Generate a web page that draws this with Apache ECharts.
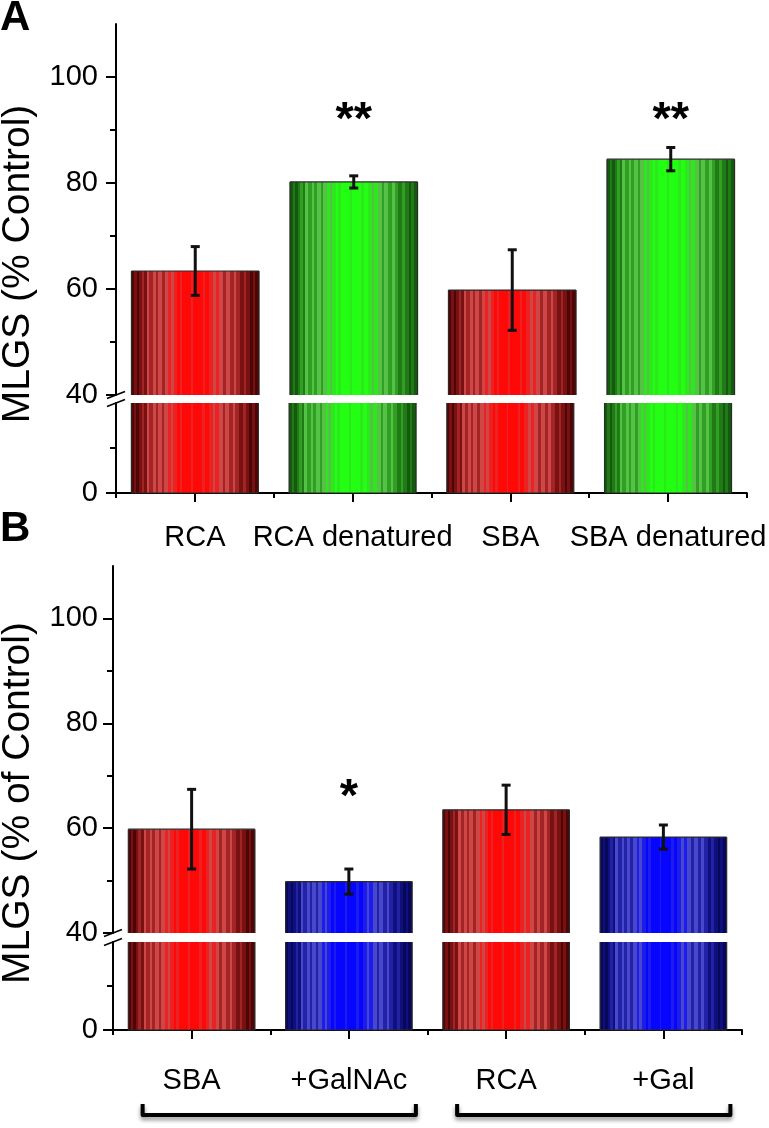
<!DOCTYPE html>
<html><head><meta charset="utf-8">
<script src="https://cdn.jsdelivr.net/npm/echarts@6/dist/echarts.min.js"></script>
<style>html,body{margin:0;padding:0;background:#fff}#c{width:769px;height:1128px}</style>
</head><body><div id="c"></div>
<script>
// ---------------- data ----------------
const catsA = ['RCA', 'RCA denatured', 'SBA', 'SBA denatured'];
const meansA = [63.4, 80.2, 59.8, 84.5];
const errsA = [4.6, 1.15, 7.6, 2.2];
const sigA = ['', '**', '', '**'];

const catsB = ['SBA', '+GalNAc', 'RCA', '+Gal'];
const meansB = [59.8, 49.8, 63.5, 58.3];
const errsB = [7.6, 2.4, 4.7, 2.3];
const sigB = ['', '*', '', ''];

const yMajorUpper = [40, 60, 80, 100];
const yMinorUpper = [50, 70, 90];
const yMajorLower = [0];
const yMinorLower = [20];
const groupsB = [[0, 1], [2, 3]];   // bracket groups (category indices)

// ---------------- style / layout ----------------
const titleA = 'MLGS (% Control)';
const titleB = 'MLGS (% of Control)';
const palA = ['red', 'green', 'red', 'green'];
const palB = ['red', 'blue', 'red', 'blue'];
const FONT = '"Liberation Sans", Arial, Helvetica, sans-serif';
const BAR_FRAC = 0.805;
const SIG_ANCHOR_A = 91.7, SIG_ANCHOR_B = 65.7;
const UP_MIN = 40, UP_MAX = 110, LO_MIN = 0, LO_MAX = 40;
const TICK_FS = 29, CAT_FS = 29, TITLE_FS = 39;

const palettes = {
  red:   ['#4e0505', '#781111', '#a32424', '#cf4646', '#ec2222', '#ff0808'],
  green: ['#145a0e', '#217a17', '#2fa022', '#55c247', '#2ee81e', '#22ff12'],
  blue:  ['#08085a', '#10107c', '#2222a6', '#4848cc', '#1c1cec', '#0606ff']
};
const stripeSeq = [[0,0],[0.02,1],[0.04,0],[0.06,1],[0.08,2],[0.1,1],[0.12,3],[0.14,2],[0.17,3],[0.19,2],[0.21,3],[0.24,2],[0.26,3],[0.29,4],[0.31,3],[0.33,4],[0.36,5],[0.38,4],[0.4,5],[0.47,4],[0.485,5],[0.56,4],[0.58,5],[0.61,4],[0.64,3],[0.66,4],[0.69,3],[0.72,2],[0.74,3],[0.77,2],[0.8,3],[0.82,2],[0.85,1],[0.88,2],[0.9,1],[0.93,0],[0.95,1],[0.97,0]];
function makeFill(name) {
  const pal = palettes[name], stops = [];
  for (let k = 0; k < stripeSeq.length; k++) {
    const p = stripeSeq[k][0], lvl = stripeSeq[k][1];
    const next = k + 1 < stripeSeq.length ? stripeSeq[k + 1][0] : 1;
    stops.push({offset: p, color: pal[lvl]});
    stops.push({offset: next, color: pal[lvl]});
  }
  return new echarts.graphic.LinearGradient(0, 0, 1, 0, stops);
}
const fills = {red: makeFill('red'), green: makeFill('green'), blue: makeFill('blue')};

function barItem(pal) {
  return function (params, api) {
    const i = api.value(0), v = api.value(1);
    const cs = params.coordSys;
    const w = api.size([1, 0])[0] * BAR_FRAC;
    const pv = api.coord([i, v]), p0 = api.coord([i, 0]);
    const x0 = pv[0] - w / 2, x1 = pv[0] + w / 2;
    const top = Math.max(pv[1], cs.y), bot = Math.min(p0[1], cs.y + cs.height);
    if (bot <= top) return null;
    const hasTop = pv[1] >= cs.y - 0.5, hasBot = p0[1] <= cs.y + cs.height + 0.5;
    const ls = {stroke: '#2a2a2a', lineWidth: 1.2};
    const ch = [{type: 'rect', shape: {x: x0, y: top, width: w, height: bot - top}, style: {fill: fills[pal[i]]}}];
    ch.push({type: 'line', shape: {x1: x0, y1: top, x2: x0, y2: bot}, style: ls});
    ch.push({type: 'line', shape: {x1: x1, y1: top, x2: x1, y2: bot}, style: ls});
    if (hasTop) ch.push({type: 'line', shape: {x1: x0, y1: top, x2: x1, y2: top}, style: ls});
    if (hasBot) ch.push({type: 'line', shape: {x1: x0, y1: bot, x2: x1, y2: bot}, style: ls});
    return {type: 'group', children: ch};
  };
}
function errItem(params, api) {
  const i = api.value(0), m = api.value(1), e = api.value(2);
  const a = api.coord([i, m + e]), b = api.coord([i, m - e]);
  const cap = 4.5, st = {stroke: '#111', lineWidth: 3};
  return {type: 'group', children: [
    {type: 'line', shape: {x1: a[0], y1: a[1], x2: b[0], y2: b[1]}, style: st},
    {type: 'line', shape: {x1: a[0] - cap, y1: a[1], x2: a[0] + cap, y2: a[1]}, style: st},
    {type: 'line', shape: {x1: b[0] - cap, y1: b[1], x2: b[0] + cap, y2: b[1]}, style: st}
  ]};
}
function sigItem(labels) {
  return function (params, api) {
    const t = labels[params.dataIndex];
    if (!t) return null;
    const p = api.coord([api.value(0), api.value(1)]);
    return {type: 'text', x: p[0], y: p[1], style: {text: t, fill: '#000', fontSize: 47, fontWeight: 'bold', fontFamily: FONT, align: 'center', verticalAlign: 'middle'}};
  };
}

const axisLS = {color: '#000', width: 2};
function hiddenX(g, cats) { return {type: 'category', gridIndex: g, data: cats, position: 'bottom', axisLine: {show: false}, axisTick: {show: false}, axisLabel: {show: false}, splitLine: {show: false}}; }
function labelX(g, cats, margin) { return {type: 'category', gridIndex: g, data: cats, position: 'bottom',
  axisLine: {show: true, onZero: false, lineStyle: axisLS},
  axisTick: {show: true, alignWithLabel: true, interval: 0, length: 9, lineStyle: axisLS},
  axisLabel: {show: true, interval: 0, margin: margin, fontSize: CAT_FS, fontFamily: FONT, color: '#000'}, splitLine: {show: false}}; }
function boundX(g, cats) { return {type: 'category', gridIndex: g, data: cats, position: 'bottom',
  axisLine: {show: false, onZero: false}, axisTick: {show: true, interval: 0, length: 5, lineStyle: axisLS},
  axisLabel: {show: false}, splitLine: {show: false}}; }
function mainY(g, min, max, vals, margin) { return {type: 'value', gridIndex: g, position: 'left', min: min, max: max,
  axisLine: {show: true, lineStyle: axisLS},
  axisTick: {show: true, length: 10, customValues: vals, lineStyle: axisLS},
  axisLabel: {show: true, customValues: vals, margin: margin, fontSize: TICK_FS, fontFamily: FONT, color: '#000'},
  splitLine: {show: false}}; }
function minorY(g, min, max, vals) { return {type: 'value', gridIndex: g, position: 'left', min: min, max: max,
  axisLine: {show: false}, axisTick: {show: true, length: 6, customValues: vals, lineStyle: axisLS},
  axisLabel: {show: false}, splitLine: {show: false}}; }

function barSeries(xi, yi, means, pal) {
  return {type: 'custom', xAxisIndex: xi, yAxisIndex: yi, z: 2, renderItem: barItem(pal), data: means.map((v, i) => [i, v])};
}

const option = {
  animation: false,
  backgroundColor: '#fff',
  grid: [
    {left: 116, right: 19, top: 24, height: 371},
    {left: 116, right: 19, top: 403, height: 90},
    {left: 113, right: 27, top: 566, height: 367},
    {left: 113, right: 27, top: 942, height: 88}
  ],
  xAxis: [hiddenX(0, catsA), labelX(1, catsA, 30), hiddenX(2, catsB), labelX(3, catsB, 36), boundX(1, catsA), boundX(3, catsB)],
  yAxis: [
    mainY(0, UP_MIN, UP_MAX, yMajorUpper, 18), mainY(1, LO_MIN, LO_MAX, yMajorLower, 18),
    mainY(2, UP_MIN, UP_MAX, yMajorUpper, 15), mainY(3, LO_MIN, LO_MAX, yMajorLower, 15),
    minorY(0, UP_MIN, UP_MAX, yMinorUpper), minorY(1, LO_MIN, LO_MAX, yMinorLower),
    minorY(2, UP_MIN, UP_MAX, yMinorUpper), minorY(3, LO_MIN, LO_MAX, yMinorLower)
  ],
  series: [
    barSeries(0, 0, meansA, palA), barSeries(1, 1, meansA, palA),
    barSeries(2, 2, meansB, palB), barSeries(3, 3, meansB, palB),
    {type: 'custom', xAxisIndex: 0, yAxisIndex: 0, z: 3, renderItem: errItem, data: meansA.map((m, i) => [i, m, errsA[i]])},
    {type: 'custom', xAxisIndex: 2, yAxisIndex: 2, z: 3, renderItem: errItem, data: meansB.map((m, i) => [i, m, errsB[i]])},
    {type: 'custom', xAxisIndex: 0, yAxisIndex: 0, z: 4, renderItem: sigItem(sigA), data: sigA.map((s, i) => [i, SIG_ANCHOR_A])},
    {type: 'custom', xAxisIndex: 2, yAxisIndex: 2, z: 4, renderItem: sigItem(sigB), data: sigB.map((s, i) => [i, SIG_ANCHOR_B])}
  ]
};
const chart = echarts.init(document.getElementById('c'));
chart.setOption(option);

// ---------------- decorations ----------------
const gr = [];
const breakLine = {stroke: '#000', lineWidth: 1.6};
function addBreak(axisX, yPix) {
  gr.push({type: 'line', z: 10, shape: {x1: axisX - 9, y1: yPix + 3.5, x2: axisX + 9, y2: yPix - 3.5}, style: breakLine});
}
[[0, 1, 116], [2, 3, 113]].forEach(function (d) {
  const yU = chart.convertToPixel({yAxisIndex: d[0]}, 40);
  const yL = chart.convertToPixel({yAxisIndex: d[1]}, 40);
  addBreak(d[2], yU);
  addBreak(d[2], yL);
});
// brackets under panel B labels
const yBase = chart.convertToPixel({yAxisIndex: 3}, 0);
groupsB.forEach(function (g) {
  const xa = chart.convertToPixel({xAxisIndex: 3}, g[0]) - 49;
  const xb = chart.convertToPixel({xAxisIndex: 3}, g[1]) + 67;
  gr.push({type: 'polyline', z: 10, shape: {points: [[xa, yBase + 74], [xa, yBase + 85], [xb, yBase + 85], [xb, yBase + 74]]},
    style: {stroke: '#000', lineWidth: 4, fill: null, lineJoin: 'round', shadowColor: 'rgba(0,0,0,0.45)', shadowBlur: 4, shadowOffsetY: 3}});
});
// axis titles and panel letters
gr.push({type: 'text', z: 10, x: 18.5, y: 264, rotation: Math.PI / 2, style: {text: titleA, fill: '#000', fontSize: TITLE_FS, fontFamily: FONT, align: 'center', verticalAlign: 'middle'}});
gr.push({type: 'text', z: 10, x: 18, y: 803, rotation: Math.PI / 2, style: {text: titleB, fill: '#000', fontSize: TITLE_FS, fontFamily: FONT, align: 'center', verticalAlign: 'middle'}});
gr.push({type: 'text', z: 10, x: 0, y: 18, style: {text: 'A', fill: '#000', fontSize: 42, fontWeight: 'bold', fontFamily: FONT, align: 'left', verticalAlign: 'middle'}});
gr.push({type: 'text', z: 10, x: 0, y: 529, style: {text: 'B', fill: '#000', fontSize: 42, fontWeight: 'bold', fontFamily: FONT, align: 'left', verticalAlign: 'middle'}});
chart.setOption({graphic: gr});
</script>
</body></html>
